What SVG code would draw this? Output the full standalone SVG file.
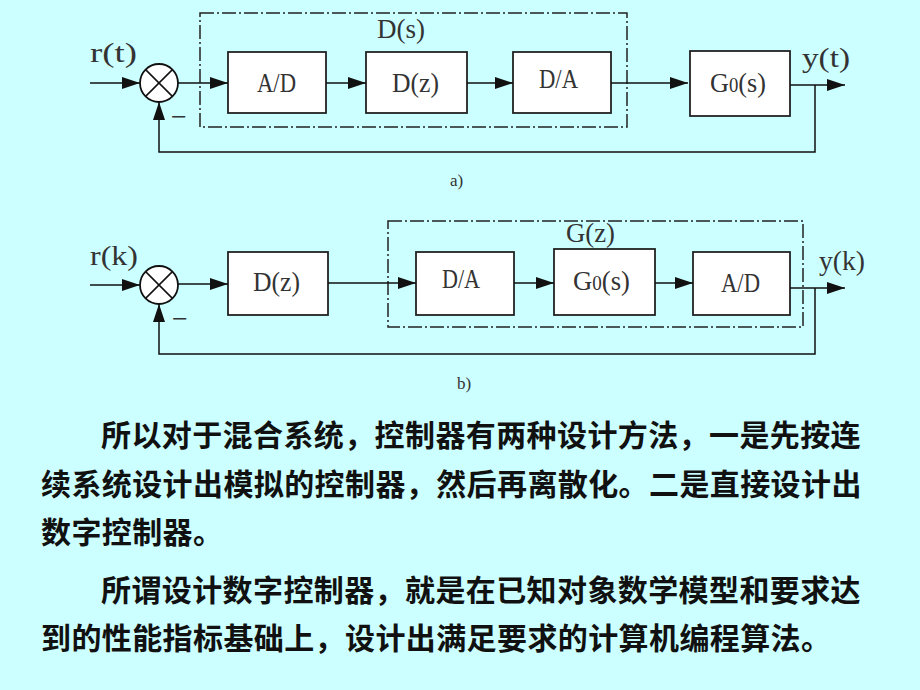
<svg xmlns="http://www.w3.org/2000/svg" width="920" height="690" viewBox="0 0 920 690">
<defs>
<marker id="arr" viewBox="0 0 18 12" refX="18" refY="6" markerWidth="18" markerHeight="12" markerUnits="userSpaceOnUse" orient="auto">
<path d="M0,0 L18,6 L0,12 z" fill="#111"/>
</marker>
<style>
.box{fill:#fff;stroke:#222;stroke-width:1.8}
.frame{fill:none;stroke:#222;stroke-width:1.5;stroke-dasharray:14 3 2 3}
.ln{fill:none;stroke:#111;stroke-width:1.5}
.arw{fill:none;stroke:#111;stroke-width:1.5;marker-end:url(#arr)}
.sum{fill:#fff;stroke:#111;stroke-width:1.8}
.lbl{font-family:"Liberation Serif","DejaVu Serif",serif;font-size:28px;fill:#333}
.sm{font-family:"Liberation Serif","DejaVu Serif",serif;font-size:17px;fill:#333}
.para{font-family:"Noto Sans CJK SC","Noto Sans",sans-serif;font-size:30px;font-weight:bold;fill:#111;letter-spacing:0.4px}
</style>
</defs>
<rect x="0" y="0" width="920" height="690" fill="#CCFFFF"/>

<!-- Diagram a -->
<g id="frame-a"><rect class="frame" x="200" y="13" width="427" height="114"/><text class="lbl" x="377" y="38" textLength="48" lengthAdjust="spacingAndGlyphs">D(s)</text></g>
<g id="sum-a"><circle class="sum" cx="159" cy="83" r="19"/><path class="ln" d="M145.6,69.6 L172.4,96.4 M172.4,69.6 L145.6,96.4"/><text class="lbl" x="171" y="126" font-size="18">−</text></g>
<g id="ad-a"><rect class="box" x="228" y="52" width="98" height="61"/><text class="lbl" x="257" y="92" textLength="39" lengthAdjust="spacingAndGlyphs">A/D</text></g>
<g id="dz-a"><rect class="box" x="366" y="52" width="101" height="61"/><text class="lbl" x="392" y="92" textLength="47" lengthAdjust="spacingAndGlyphs">D(z)</text></g>
<g id="da-a"><rect class="box" x="513" y="52" width="98" height="61"/><text class="lbl" x="539" y="88" textLength="39" lengthAdjust="spacingAndGlyphs">D/A</text></g>
<g id="g0-a"><rect class="box" x="690" y="51" width="100" height="65"/><text class="lbl" x="710" y="92" textLength="56" lengthAdjust="spacingAndGlyphs">G<tspan font-size="20">0</tspan>(s)</text></g>
<g id="in-a"><text class="lbl" x="90" y="62" textLength="47" lengthAdjust="spacingAndGlyphs">r(t)</text></g>
<g id="out-a"><text class="lbl" x="802" y="67" textLength="48" lengthAdjust="spacingAndGlyphs">y(t)</text></g>
<text class="sm" x="450" y="186">a)</text>

<g id="connectors-a">
<line class="arw" x1="90" y1="83" x2="140" y2="83"/>
<line class="arw" x1="178" y1="83" x2="228" y2="83"/>
<line class="arw" x1="326" y1="83" x2="366" y2="83"/>
<line class="arw" x1="467" y1="83" x2="513" y2="83"/>
<line class="arw" x1="611" y1="83" x2="688" y2="83"/>
<line class="arw" x1="790" y1="85" x2="845" y2="85"/>
<path class="arw" d="M815,85 V152 H159 V102"/>
</g>

<!-- Diagram b -->
<g id="frame-b"><rect class="frame" x="388" y="221" width="415" height="106"/><text class="lbl" x="566" y="242" textLength="49" lengthAdjust="spacingAndGlyphs">G(z)</text></g>
<g id="sum-b"><circle class="sum" cx="159" cy="285" r="19"/><path class="ln" d="M145.6,271.6 L172.4,298.4 M172.4,271.6 L145.6,298.4"/><text class="lbl" x="172" y="328" font-size="18">−</text></g>
<g id="dz-b"><rect class="box" x="228" y="252" width="100" height="63"/><text class="lbl" x="253" y="291" textLength="47" lengthAdjust="spacingAndGlyphs">D(z)</text></g>
<g id="da-b"><rect class="box" x="416" y="252" width="98" height="63"/><text class="lbl" x="442" y="288" textLength="38" lengthAdjust="spacingAndGlyphs">D/A</text></g>
<g id="g0-b"><rect class="box" x="554" y="249" width="101" height="66"/><text class="lbl" x="573" y="290" textLength="57" lengthAdjust="spacingAndGlyphs">G<tspan font-size="20">0</tspan>(s)</text></g>
<g id="ad-b"><rect class="box" x="693" y="252" width="97" height="63"/><text class="lbl" x="721" y="292" textLength="39" lengthAdjust="spacingAndGlyphs">A/D</text></g>
<g id="in-b"><text class="lbl" x="90" y="265" textLength="48" lengthAdjust="spacingAndGlyphs">r(k)</text></g>
<g id="out-b"><text class="lbl" x="819" y="270" textLength="46" lengthAdjust="spacingAndGlyphs">y(k)</text></g>
<text class="sm" x="457" y="389">b)</text>

<g id="connectors-b">
<line class="arw" x1="90" y1="285" x2="140" y2="285"/>
<line class="arw" x1="178" y1="284" x2="228" y2="284"/>
<line class="arw" x1="328" y1="283" x2="416" y2="283"/>
<line class="arw" x1="514" y1="283" x2="554" y2="283"/>
<line class="arw" x1="655" y1="283" x2="693" y2="283"/>
<line class="arw" x1="790" y1="288" x2="845" y2="288"/>
<path class="arw" d="M815,288 V354 H159 V304"/>
</g>

<!-- Paragraph text -->
<text class="para" x="101" y="446">所以对于混合系统，控制器有两种设计方法，一是先按连</text>
<text class="para" x="41" y="495">续系统设计出模拟的控制器，然后再离散化。二是直接设计出</text>
<text class="para" x="41" y="543">数字控制器。</text>
<text class="para" x="101" y="601">所谓设计数字控制器，就是在已知对象数学模型和要求达</text>
<text class="para" x="41" y="649">到的性能指标基础上，设计出满足要求的计算机编程算法。</text>
</svg>
